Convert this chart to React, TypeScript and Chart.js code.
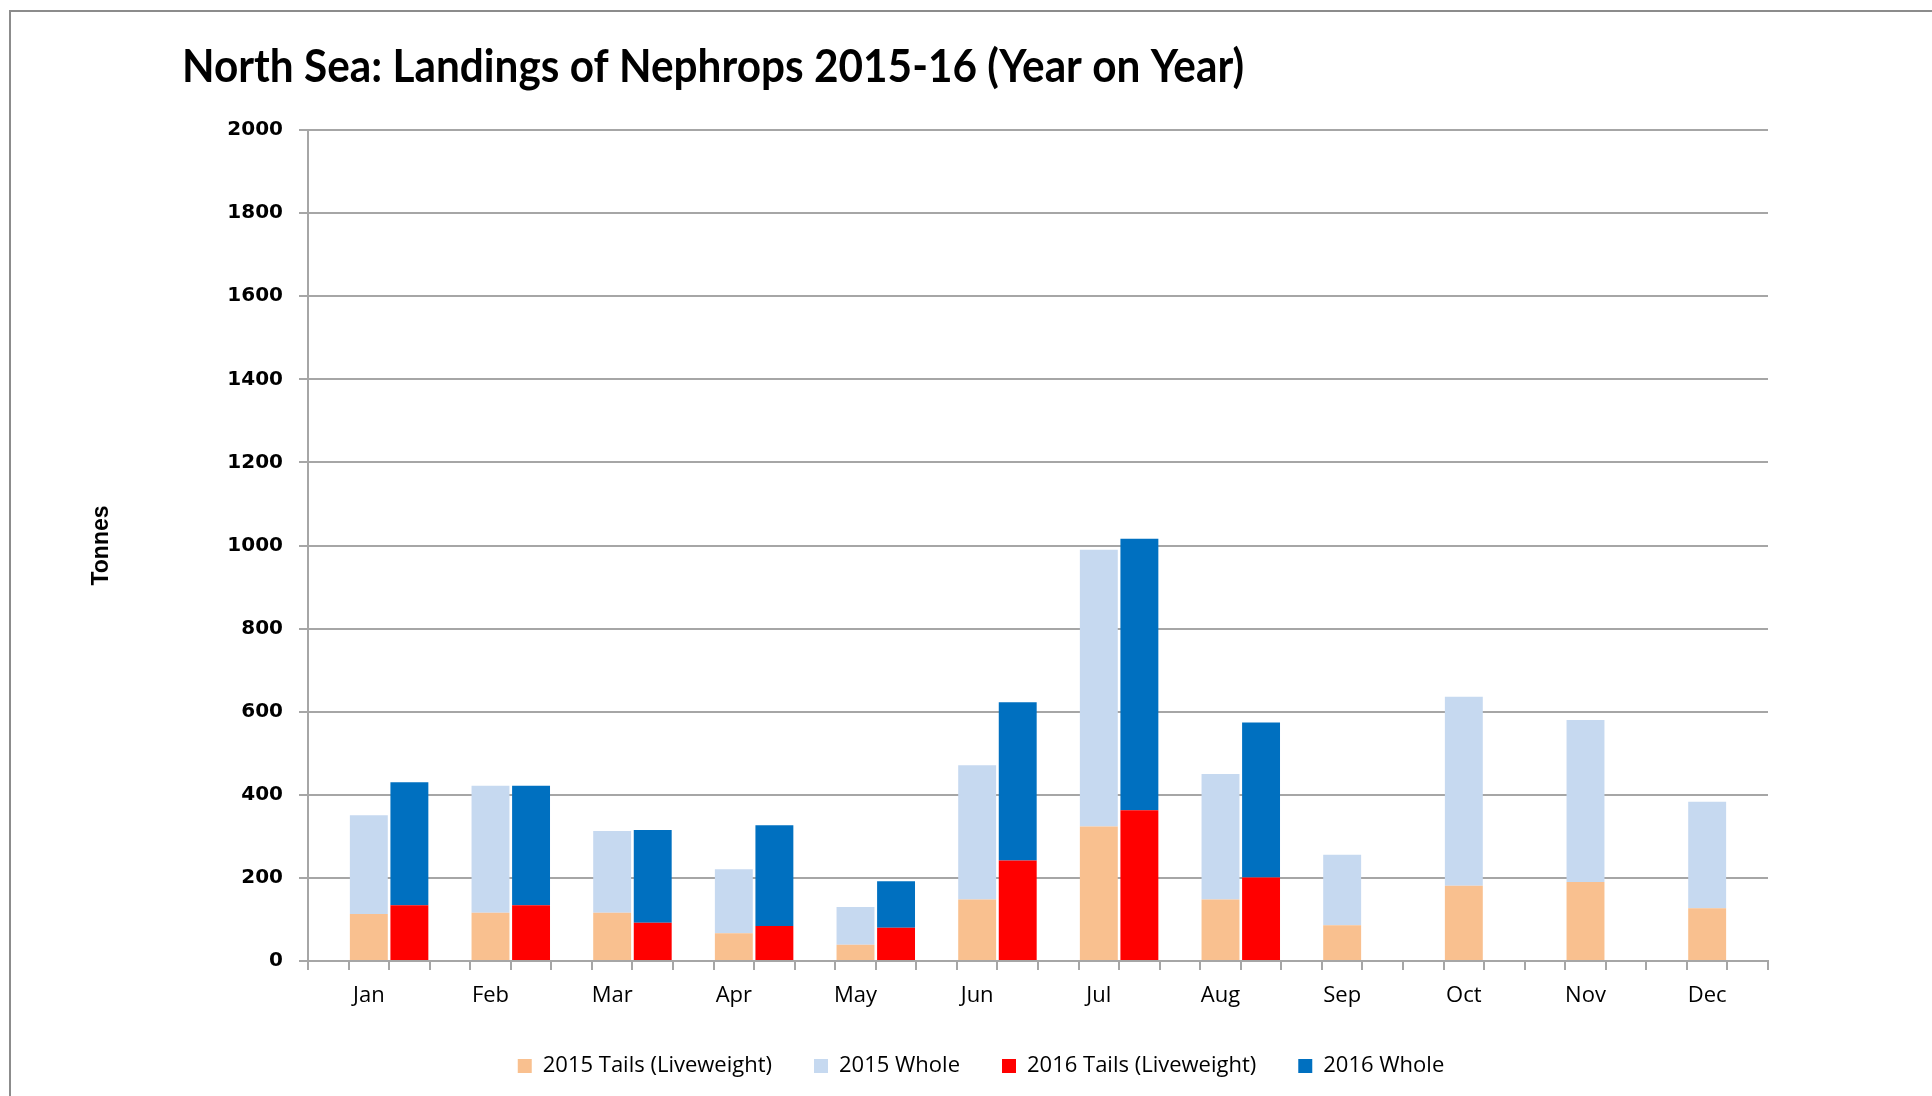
import React, { useEffect, useRef } from 'react';
import { Chart, registerables } from 'chart.js';

Chart.register(...registerables);

// ---- Data ----
const MONTHS = ['Jan', 'Feb', 'Mar', 'Apr', 'May', 'Jun', 'Jul', 'Aug', 'Sep', 'Oct', 'Nov', 'Dec'];
const TAILS_2015 = [113, 116, 116, 67, 39, 148, 324, 148, 86, 181, 190, 127];
const WHOLE_2015 = [238, 306, 197, 154, 91, 323, 666, 302, 170, 455, 390, 256];
const TAILS_2016 = [134, 134, 92, 84, 80, 242, 363, 201];
const WHOLE_2016 = [296, 288, 223, 243, 112, 381, 653, 373];
const SERIES_NAMES = ['2015 Tails (Liveweight)', '2015 Whole', '2016 Tails (Liveweight)', '2016 Whole'];
const SERIES_COLORS = ['#F9C08F', '#C6D9F0', '#FF0000', '#0070C0'];
const Y_MIN = 0;
const Y_MAX = 2000;
const Y_STEP = 200;
const TITLE = 'North Sea: Landings of Nephrops 2015-16 (Year on Year)';
const Y_TITLE = 'Tonnes';

// Each month occupies three category slots: gap, 2015 column, 2016 column
const slotLabels = MONTHS.flatMap((m) => ['', m, '']);
const slot2015 = (vals: number[]) => MONTHS.flatMap((_, i) => [null, vals[i] ?? null, null]);
const slot2016 = (vals: number[]) => MONTHS.flatMap((_, i) => [null, null, vals[i] ?? null]);

const GRID = '#a6a6a6';

const titlePlugin = {
  id: 'customTitle',
  afterDraw(chart: any) {
    const ctx = chart.ctx;
    ctx.save();
    ctx.font = 'bold 46px Lato, "Open Sans", sans-serif';
    ctx.fillStyle = '#000';
    ctx.textBaseline = 'alphabetic';
    ctx.textAlign = 'left';
    const w = ctx.measureText(TITLE).width;
    ctx.translate(182, 82);
    ctx.scale(1062 / w, 1);
    ctx.fillText(TITLE, 0, 0);
    ctx.restore();
  },
};

export default function App() {
  const ref = useRef<HTMLCanvasElement | null>(null);

  useEffect(() => {
    if (!ref.current) return;
    const datasets = [
      { label: SERIES_NAMES[0], data: slot2015(TAILS_2015), backgroundColor: SERIES_COLORS[0] },
      { label: SERIES_NAMES[1], data: slot2015(WHOLE_2015), backgroundColor: SERIES_COLORS[1] },
      { label: SERIES_NAMES[2], data: slot2016(TAILS_2016), backgroundColor: SERIES_COLORS[2] },
      { label: SERIES_NAMES[3], data: slot2016(WHOLE_2016), backgroundColor: SERIES_COLORS[3] },
    ].map((d) => ({ ...d, borderWidth: 0, categoryPercentage: 1, barPercentage: 0.935 }));

    const chart = new Chart(ref.current, {
      type: 'bar',
      data: { labels: slotLabels, datasets: datasets as any },
      plugins: [titlePlugin],
      options: {
        responsive: false,
        animation: false,
        devicePixelRatio: 1,
        layout: { padding: { left: 194, right: 164, top: 130, bottom: 9 } },
        plugins: {
          title: { display: false },
          tooltip: { enabled: false },
          legend: {
            position: 'bottom',
            labels: {
              boxWidth: 14,
              boxHeight: 14,
              padding: 42,
              color: '#000',
              font: { family: '"Open Sans", sans-serif', size: 22 },
            },
          },
        },
        scales: {
          x: {
            stacked: true,
            offset: true,
            ticks: {
              autoSkip: false,
              maxRotation: 0,
              minRotation: 0,
              color: '#000',
              padding: 13,
              font: { family: '"Open Sans", sans-serif', size: 22 },
            },
            grid: { drawOnChartArea: false, drawTicks: true, tickLength: 9, color: GRID, lineWidth: 2, offset: true },
            border: { display: true, color: GRID, width: 2 },
            afterFit: (s: any) => { s.height = 52; },
          },
          y: {
            stacked: true,
            min: Y_MIN,
            max: Y_MAX,
            ticks: {
              stepSize: Y_STEP,
              color: '#000',
              padding: 16,
              font: { family: '"DejaVu Sans", sans-serif', weight: 'bold', size: 20 },
              callback: (v: any) => String(v),
            },
            grid: { color: GRID, lineWidth: 2, tickLength: 9, drawTicks: true },
            border: { display: true, color: GRID, width: 2 },
            title: {
              display: true,
              text: Y_TITLE,
              color: '#000',
              font: { family: '"Liberation Sans", Arial, sans-serif', weight: 'bold', size: 23 },
              padding: { top: -106, bottom: 0 },
            },
            afterFit: (s: any) => { s.width = 114; },
          },
        },
      } as any,
    });
    return () => chart.destroy();
  }, []);

  return (
    <div style={{ position: 'fixed', left: 0, top: 0, width: 1932, height: 1096, background: '#fff', overflow: 'hidden' }}>
      <div
        style={{
          position: 'absolute',
          left: 9,
          top: 10,
          width: 2100,
          height: 1200,
          borderTop: '2px solid #8c8c8c',
          borderLeft: '2px solid #8c8c8c',
        }}
      />
      <canvas ref={ref} width={1932} height={1096} style={{ position: 'absolute', left: 0, top: 0, display: 'block' }} />
    </div>
  );
}
